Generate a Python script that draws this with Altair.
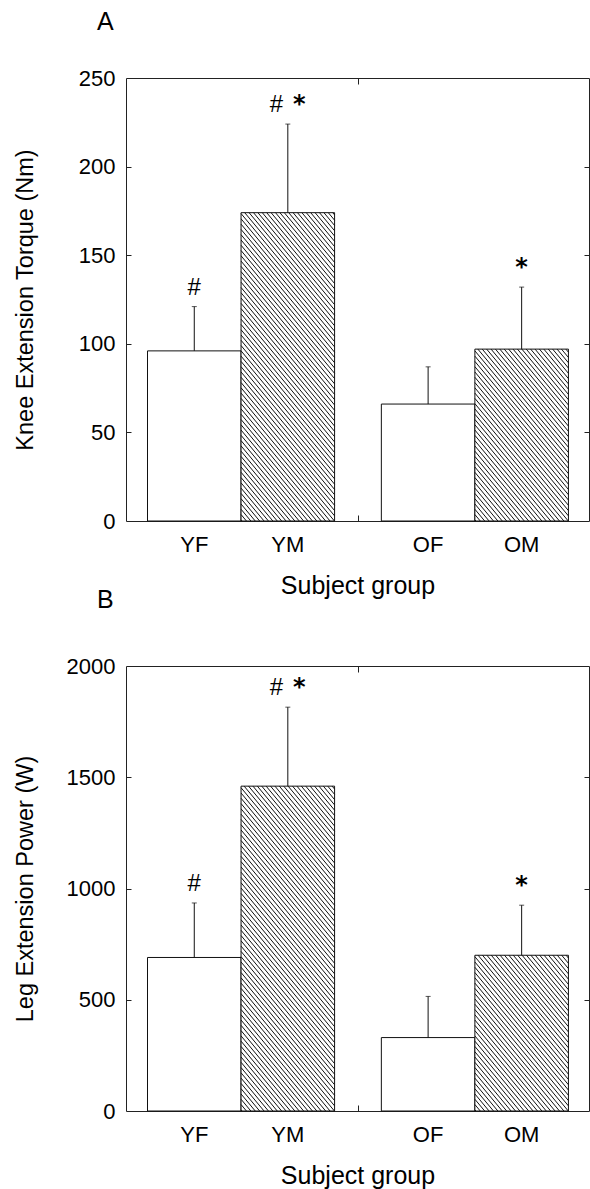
import altair as alt
import pandas as pd
import numpy as np

FONT = "Liberation Sans"

# ---- data ----
groups = ["YF", "YM", "OF", "OM"]
age = ["Young", "Young", "Old", "Old"]
sex = ["F", "M", "F", "M"]
torque_mean = [96, 174, 66, 97]
torque_sd = [25, 50, 21, 35]
power_mean = [690, 1460, 330, 700]
power_sd = [245, 355, 185, 225]
sig_marks = ["#", "# *", "", "*"]
torque_ticks = [0, 50, 100, 150, 200, 250]
power_ticks = [0, 500, 1000, 1500, 2000]

# ---- layout (bar-width units) ----
W = 463
XDOM = [-0.23, 4.72]
KX = W / (XDOM[1] - XDOM[0])
GAP_CENTER = 2.25
PAIR_SHIFT = 11.5 / KX
left_edge = [(0.0 if a == "Young" else 2.5) + (0.0 if s == "F" else 1.0) for a, s in zip(age, sex)]


def hatch_frame(means, ymax, H, slope=1.2, step=4.4):
    ky = H / ymax
    rows = []
    for g, s, x0d, m in zip(groups, sex, left_edge, means):
        if s != "M":
            continue
        x0 = (x0d - XDOM[0]) * KX
        x1 = (x0d + 1.0 - XDOM[0]) * KX
        ytop = H - m * ky
        ybot = H
        c = x0 - (ybot - ytop) / slope + 1.0
        while c < x1:
            ya = max(ytop, ytop + (x0 - c) * slope)
            yb = min(ybot, ytop + (x1 - c) * slope)
            if yb > ya:
                xa = c + (ya - ytop) / slope
                xb = c + (yb - ytop) / slope
                rows.append({
                    "hx": XDOM[0] + xa / KX, "hx2": XDOM[0] + xb / KX,
                    "hy": (H - ya) / ky, "hy2": (H - yb) / ky,
                })
            c += step
    return pd.DataFrame(rows)


def sig_frame(means, sds):
    rows = []
    for x0d, m, s, mk in zip(left_edge, means, sds, sig_marks):
        syms = mk.split()
        n = len(syms)
        for i, sym in enumerate(syms):
            shift = 0.0 if n == 1 else (-PAIR_SHIFT if i == 0 else PAIR_SHIFT)
            rows.append({"sx": x0d + 0.5 + shift, "sy": m + s, "sym": sym})
    return pd.DataFrame(rows)


def panel(means, sds, ymax, ticks, H, ytitle, letter, letter_offset):
    df = pd.DataFrame({
        "group": groups,
        "x0": left_edge,
        "x1": [v + 1.0 for v in left_edge],
        "xc": [v + 0.5 for v in left_edge],
        "mean": means,
        "top": [m + s for m, s in zip(means, sds)],
    })
    sdf = sig_frame(means, sds)
    xs = alt.Scale(domain=XDOM, nice=False, zero=False)
    ys = alt.Scale(domain=[0, ymax], nice=False, zero=True)
    inner = [t for t in ticks if 0 < t < ymax]

    bars = alt.Chart(df).mark_rect(fill="white", stroke="#111", strokeWidth=1).encode(
        x=alt.X("x0:Q", scale=xs, axis=alt.Axis(orient="top", offset=-H, values=[GAP_CENTER],
                                                 labels=False, domain=False, ticks=True, tickSize=6,
                                                 tickColor="#222", grid=False, title=None)),
        x2="x1:Q",
        y=alt.Y("mean:Q", scale=ys, axis=alt.Axis(orient="left", values=ticks, format="d",
                                                   ticks=False, tickSize=0,
                                                   domain=False, grid=False, labelPadding=11,
                                                   labelFontSize=22, title=ytitle, titleFontSize=23.5,
                                                   titleX=-94, titleY=H / 2, titleAngle=270,
                                                   titleBaseline="alphabetic", titleAlign="center")),
        y2=alt.datum(0),
    )

    hatch = alt.Chart(hatch_frame(means, ymax, H)).mark_rule(color="#111", strokeWidth=1).encode(
        x=alt.X("hx:Q", scale=xs, axis=alt.Axis(orient="bottom", offset=-H, values=[GAP_CENTER],
                                                 labels=False, domain=False, ticks=True, tickSize=6,
                                                 tickColor="#222", grid=False, title=None)),
        x2="hx2:Q",
        y=alt.Y("hy:Q", scale=ys, axis=alt.Axis(orient="right", offset=-W, values=inner,
                                                 labels=False, domain=False, ticks=True, tickSize=5,
                                                 tickColor="#222", grid=False, title=None)),
        y2="hy2:Q",
    )

    err = alt.Chart(df).mark_rule(color="#111", strokeWidth=1).encode(
        x=alt.X("xc:Q", scale=xs, axis=alt.Axis(orient="bottom", labels=False, ticks=False, domain=False,
                                                 grid=False, title="Subject group", titleFontSize=25,
                                                 titleY=72, titleBaseline="alphabetic")),
        y=alt.Y("mean:Q", scale=ys, axis=alt.Axis(orient="left", offset=-W, values=inner,
                                                   labels=False, domain=False, ticks=True, tickSize=5,
                                                   tickColor="#222", grid=False, title=None)),
        y2="top:Q",
    )

    caps = alt.Chart(df).mark_tick(orient="horizontal", size=5, thickness=1, color="#111").encode(
        x=alt.X("xc:Q", scale=xs, axis=None),
        y=alt.Y("top:Q", scale=ys, axis=None),
    )

    hashes = alt.Chart(sdf).transform_filter(alt.datum.sym == "#").mark_text(
        fontSize=24, dy=-12, baseline="alphabetic", color="black", font=FONT
    ).encode(
        x=alt.X("sx:Q", scale=xs, axis=None),
        y=alt.Y("sy:Q", scale=ys, axis=None),
        text="sym:N",
    )

    stars = alt.Chart(sdf).transform_filter(alt.datum.sym == "*").mark_text(
        fontSize=24, dy=-12.5, baseline="alphabetic", color="black", font="DejaVu Sans", fontWeight="bold"
    ).encode(
        x=alt.X("sx:Q", scale=xs, axis=None),
        y=alt.Y("sy:Q", scale=ys, axis=None),
        text="sym:N",
    )

    labels = alt.Chart(df).mark_text(fontSize=22, baseline="middle", color="black").encode(
        x=alt.X("xc:Q", scale=xs, axis=None),
        y=alt.value(H + 24),
        text="group:N",
    )

    return alt.layer(bars, hatch, err, caps, hashes, stars, labels).resolve_axis(
        x="independent", y="independent"
    ).properties(
        width=W, height=H,
        title=alt.TitleParams(letter, anchor="start", frame="group", dx=-29, offset=letter_offset,
                              baseline="alphabetic", fontSize=25, fontWeight="normal", font=FONT),
    )


top = panel(torque_mean, torque_sd, 250, torque_ticks, 443, "Knee Extension Torque (Nm)", "A", 12)
bottom = panel(power_mean, power_sd, 2000, power_ticks, 445, "Leg Extension Power (W)", "B", 22)

chart = alt.vconcat(top, bottom, spacing=145, bounds="flush").properties(
    padding={"left": 12, "top": 9, "right": 0, "bottom": 0}
).configure_view(stroke="#222", strokeWidth=1).configure_axis(
    labelFont=FONT, titleFont=FONT, labelColor="black", titleColor="black",
    titleFontWeight="normal", grid=False
).configure_text(font=FONT).configure_title(font=FONT, color="black")

chart.save("out.html", embed_options={"renderer": "svg", "actions": False})
